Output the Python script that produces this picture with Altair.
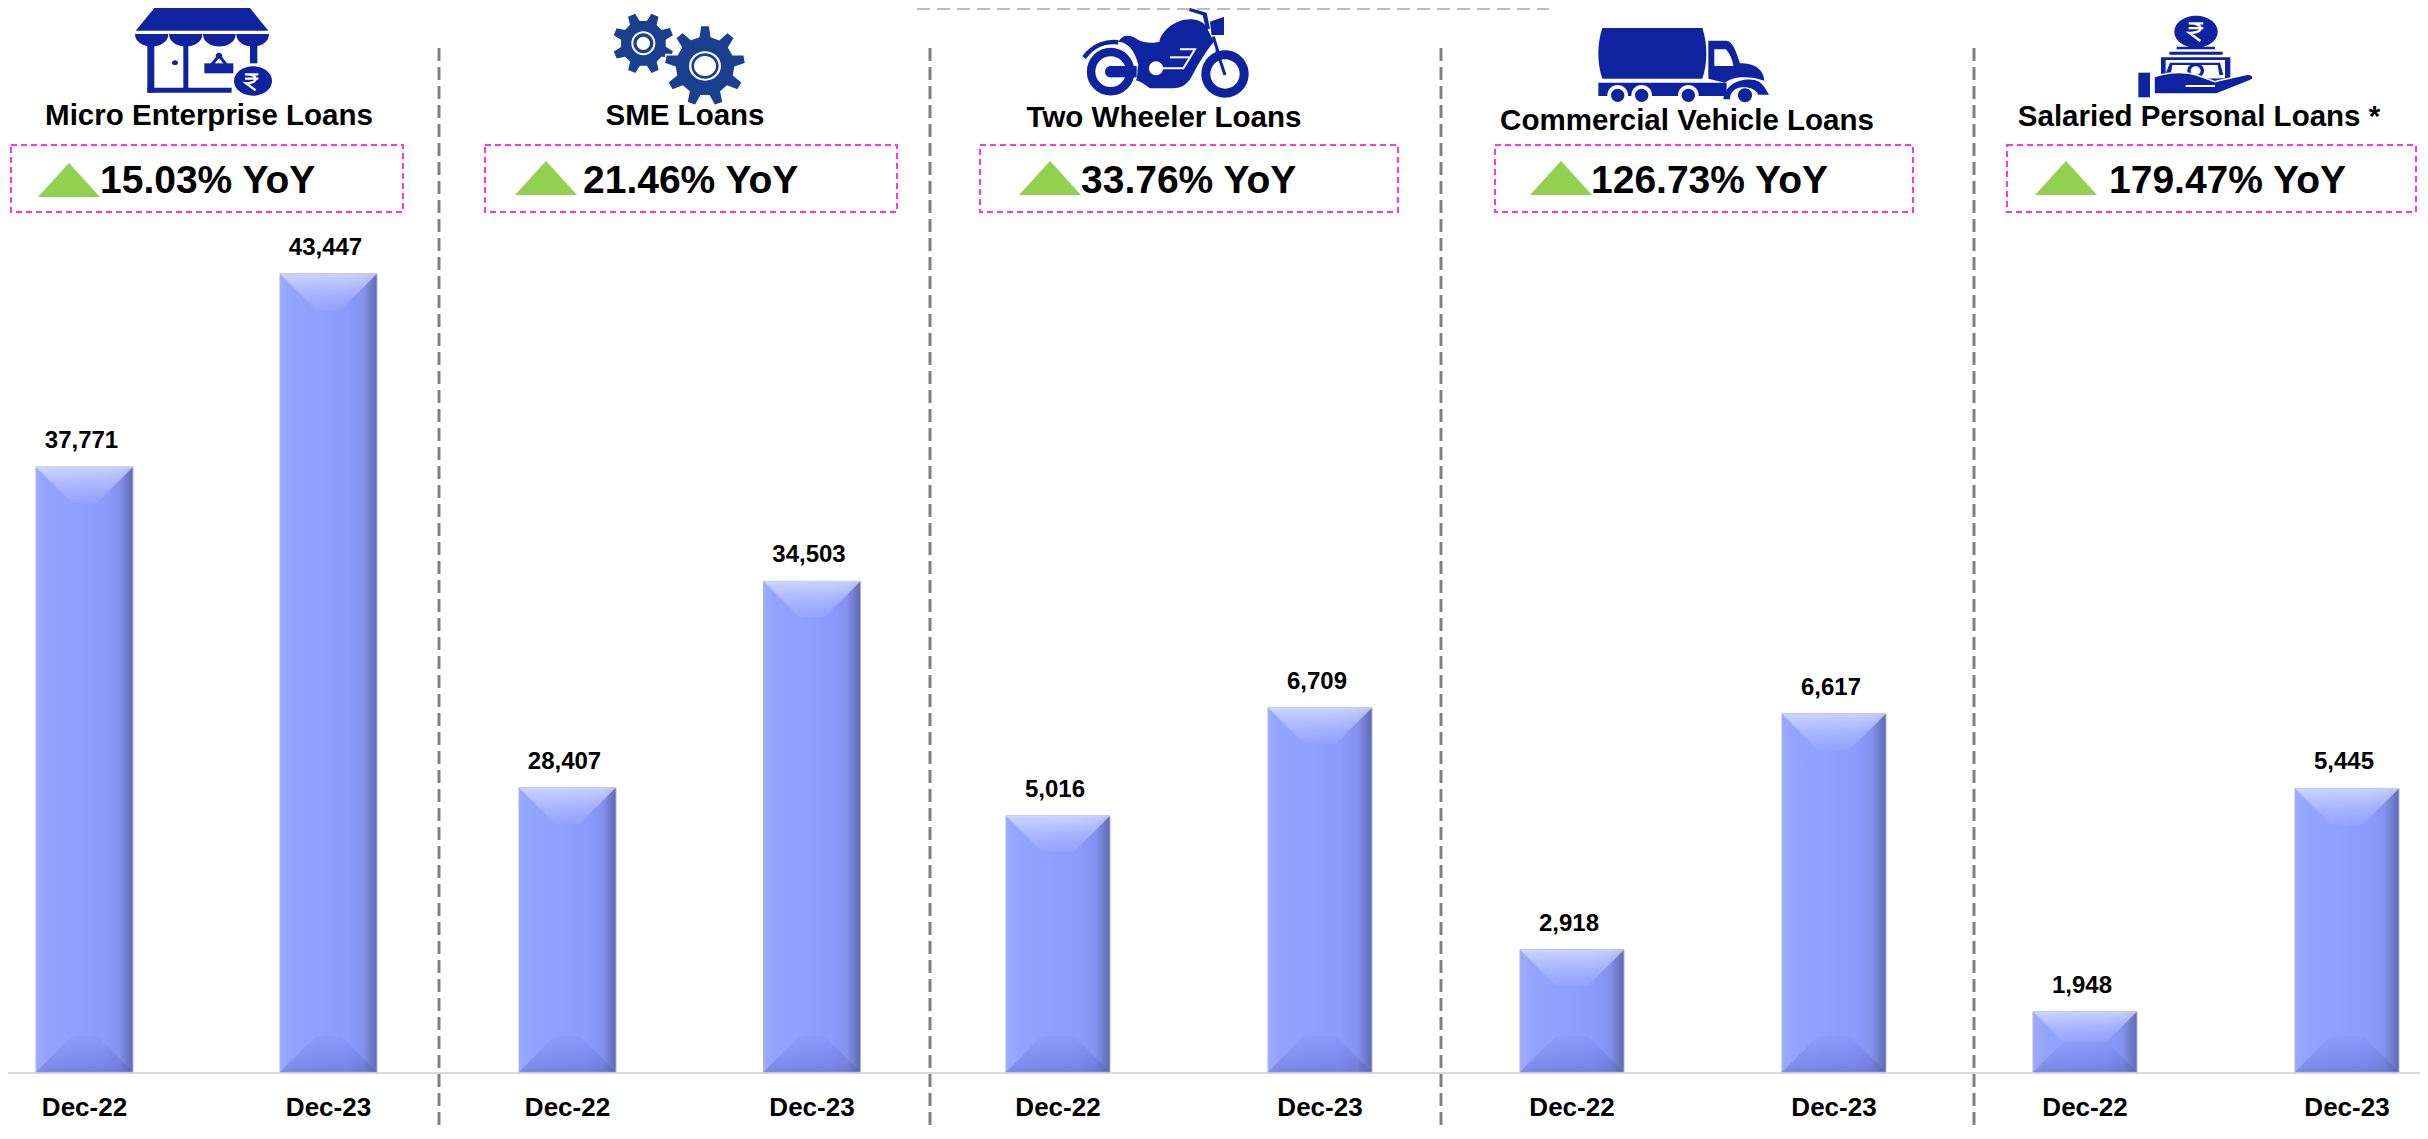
import math
import re
import altair as alt

# ---------- chart values ----------
titles = ["Micro Enterprise Loans", "SME Loans", "Two Wheeler Loans",
          "Commercial Vehicle Loans", "Salaried Personal Loans *"]
yoy = ["15.03% YoY", "21.46% YoY", "33.76% YoY", "126.73% YoY", "179.47% YoY"]
periods = ["Dec-22", "Dec-23"]
dec22 = [37771, 28407, 5016, 2918, 1948]
dec23 = [43447, 34503, 6709, 6617, 5445]
axis_min = [20000, 20000, 1000, 1000, 1000]
axis_max = [51250, 51450, 17680, 17680, 17680]

# ---------- layout (page pixels) ----------
H = 1064
panel_edges = [8, 439, 930, 1441, 1974, 2420]
bar_width = [97, 97, 104, 104, 104]
bar_centers = [(84.5, 328.5), (567.5, 812), (1058, 1320), (1572, 1834), (2085, 2347)]
title_x = [209, 685, 1164, 1687, 2199]
title_y = [125, 125, 127, 130, 126]
box_x = [(11, 403), (485, 897), (980, 1398), (1495, 1913), (2007, 2416)]
tri_x = [69, 546, 1050, 1561, 2066]
tri_y = [180, 178, 178, 178, 178]
yoy_x = [100, 583, 1081, 1591, 2109]
icon_origin = [(125, 8), (600, 8), (1070, 8), (1585, 20), (2125, 10)]

FONT = "Liberation Sans"
NAVY = "#0f239f"
GEAR = "#1a3f8e"


# ---------- icon drawing helpers (shapes in 3x icon units) ----------
def ellipse(cx, cy, rx, ry):
    k = 0.5523
    return (f"M{cx - rx},{cy} C{cx - rx},{cy - k * ry} {cx - k * rx},{cy - ry} {cx},{cy - ry} "
            f"C{cx + k * rx},{cy - ry} {cx + rx},{cy - k * ry} {cx + rx},{cy} "
            f"C{cx + rx},{cy + k * ry} {cx + k * rx},{cy + ry} {cx},{cy + ry} "
            f"C{cx - k * rx},{cy + ry} {cx - rx},{cy + k * ry} {cx - rx},{cy} Z")


def rect(x0, y0, x1, y1):
    return f"M{x0},{y0} L{x1},{y0} L{x1},{y1} L{x0},{y1} Z"


def scallop(x0, x1, y0, y1):
    return f"M{x0},{y0} L{x1},{y0} C{x1},{y1} {x0},{y1} {x0},{y0} Z"


def gear(cx, cy, ro, ri, n, rot):
    pts = []
    step = 2 * math.pi / n
    for i in range(n):
        t = rot + i * step
        for f, r in ((-0.30, ri), (-0.16, ro), (0.16, ro), (0.30, ri)):
            pts.append((cx + r * math.cos(t + f * step), cy + r * math.sin(t + f * step)))
    return "M" + " L".join(f"{x:.1f},{y:.1f}" for x, y in pts) + " Z"


def rupee(cx, cy, s):
    x0, x1 = cx - 20 * s, cx + 20 * s
    y0, y1 = cy - 20 * s, cy - 7 * s
    return (f"M{x0},{y0} L{x1},{y0} M{x0},{y1} L{x1},{y1} "
            f"M{x0 + 4 * s},{y0} C{cx + 22 * s},{y0} {cx + 22 * s},{cy + 8 * s} {x0 + 2 * s},{cy + 6 * s} "
            f"L{cx + 12 * s},{cy + 28 * s}")


def fill(path, color=NAVY):
    return {"path": path, "fill": color, "stroke": "transparent", "sw": 0}


def line(path, color=NAVY, sw=2.0):
    return {"path": path, "fill": "transparent", "stroke": color, "sw": sw}


def shifted(pieces, dy):
    """Move an icon's shapes up so its anchor stays inside the plot area."""
    def mv(m):
        return f"{float(m.group(1)):.1f},{float(m.group(2)) + dy:.1f}"
    return [{**p, "path": re.sub(r"(-?[\d.]+),(-?[\d.]+)", mv, p["path"])} for p in pieces]


def dashes_v(length, thick, dash, gap):
    """Vertical dashes as a filled outline, so that nothing pads the layout."""
    out, pos = [], 0
    while pos < length:
        out.append(rect(-thick / 2, pos, thick / 2, min(pos + dash, length)))
        pos += dash + gap
    return " ".join(out)


def dashes_h(length, thick, dash, gap):
    out, pos = [], 0
    while pos < length:
        out.append(rect(pos, 0, min(pos + dash, length), thick))
        pos += dash + gap
    return " ".join(out)


store_icon = shifted([
    fill("M88,24 L375,24 L430,92 L32,92 Z"),
    fill(scallop(30, 130, 102, 152)), fill(scallop(132, 232, 102, 152)),
    fill(scallop(234, 332, 102, 152)), fill(scallop(334, 432, 102, 152)),
    fill(rect(67, 132, 88, 278)), fill(rect(175, 132, 190, 268)),
    fill(rect(67, 263, 320, 278)), fill(rect(375, 132, 397, 190)),
    fill(ellipse(150, 188, 9, 7)),
    fill(rect(238, 190, 325, 220)),
    fill("M256,192 L282,160 L308,192 L296,192 L282,174 L268,192 Z"),
    fill(ellipse(282, 167, 10, 9)),
    fill(ellipse(384, 243, 57, 44)),
    line(rupee(380, 243, 1.0), "white", 2.2),
], -24)
gear_icon = shifted([
    fill(gear(130, 115, 92, 68, 8, 0.39), GEAR),
    fill(ellipse(130, 115, 36, 36), "white"), fill(ellipse(130, 115, 30, 30), GEAR),
    fill(ellipse(130, 115, 20, 20), "white"),
    {"path": gear(315, 183, 122, 90, 9, -1.57), "fill": GEAR, "stroke": "white", "sw": 1.5},
    fill(ellipse(315, 183, 48, 44), "white"), fill(ellipse(315, 183, 41, 38), GEAR),
    fill(ellipse(315, 183, 33, 30), "white"),
], -9)
bike_icon = shifted([
    fill("M145,125 C160,100 185,105 205,120 C225,130 250,130 268,125 C275,90 320,55 365,58 "
         "C395,60 410,75 415,92 L432,125 C410,150 385,190 365,230 C350,255 335,265 300,265 "
         "L240,265 C225,255 215,245 195,240 L205,195 C195,150 170,125 145,125 Z"),
    line("M42,173 C70,135 110,122 145,127", NAVY, 4.5),
    fill("M360,24 L357,33 L398,46 L408,88 L420,86 L410,38 Z"),
    fill("M420,65 L462,50 L462,105 L425,105 Z"),
    line("M430,110 L465,225", NAVY, 3),
    {"path": ellipse(122, 215, 76, 76), "fill": NAVY, "stroke": "white", "sw": 3},
    fill(ellipse(122, 215, 46, 46), "white"),
    fill(ellipse(122, 215, 17, 17)),
    fill(rect(122, 198, 200, 232)),
    fill(ellipse(258, 205, 21, 21), "white"),
    line("M258,205 L340,205 L375,148 L330,148", "white", 2),
    line("M300,172 L358,172", "white", 2),
    fill(ellipse(465, 222, 71, 71)),
    fill(ellipse(465, 222, 44, 44), "white"),
    line("M440,150 L465,225", NAVY, 3),
], -24)
truck_icon = [
    fill("M52,24 L352,24 C368,70 368,130 352,176 L52,176 C36,130 36,70 52,24 Z"),
    fill("M370,62 L425,62 C445,65 455,100 465,130 C505,130 535,145 538,182 "
         "C490,165 440,170 420,188 L370,176 Z"),
    fill("M388,88 L422,88 C435,100 442,120 445,138 L388,138 Z", "white"),
    fill(rect(40, 188, 425, 228)),
    fill("M415,238 C420,190 470,172 510,180 C535,188 540,205 552,224 L520,224 "
         "C510,205 490,200 470,202 C445,205 435,220 435,238 Z"),
    fill(ellipse(98, 226, 31, 31), "white"), fill(ellipse(98, 226, 20, 20)),
    fill(ellipse(170, 226, 31, 31), "white"), fill(ellipse(170, 226, 20, 20)),
    fill(ellipse(310, 226, 31, 31), "white"), fill(ellipse(310, 226, 20, 20)),
    fill(ellipse(480, 226, 21, 21)),
]
hand_icon = [
    fill(ellipse(213, 65, 65, 48)),
    line(rupee(213, 62, 1.1), "white", 2.4),
    fill(rect(155, 110, 270, 118)),
    fill(rect(133, 125, 293, 134)),
    fill(rect(108, 142, 316, 215)),
    fill(rect(122, 150, 300, 205), "white"),
    fill("M135,158 L285,158 L295,195 L120,195 Z"),
    fill("M142,165 L278,165 L285,205 L135,205 Z", "white"),
    fill(ellipse(212, 182, 25, 22)),
    fill(ellipse(212, 182, 15, 13), "white"),
    {"path": "M87,200 C120,190 170,180 215,195 L270,215 L280,212 L370,192 C388,195 388,208 375,212 "
             "L275,252 L87,252 Z", "fill": NAVY, "stroke": "white", "sw": 1.5},
    line("M182,228 L270,228", "white", 2),
    fill(rect(40, 188, 75, 262)),
]
icons = [store_icon, gear_icon, bike_icon, truck_icon, hand_icon]

BODY_GRADIENT = {
    "gradient": "linear", "x1": 0, "x2": 1, "y1": 0, "y2": 0,
    "stops": [{"offset": 0, "color": "#9babff"}, {"offset": 0.12, "color": "#93a4ff"},
              {"offset": 0.7, "color": "#8c9bfc"}, {"offset": 0.86, "color": "#8492ee"},
              {"offset": 1, "color": "#5f6ab0"}],
}
TOP_GRADIENT = {
    "gradient": "linear", "x1": 0, "x2": 0, "y1": 0, "y2": 1,
    "stops": [{"offset": 0, "color": "rgba(225,232,255,0.72)"},
              {"offset": 1, "color": "rgba(190,203,255,0.12)"}],
}
BOTTOM_GRADIENT = {
    "gradient": "linear", "x1": 0, "x2": 0, "y1": 0, "y2": 1,
    "stops": [{"offset": 0, "color": "rgba(80,95,200,0.06)"},
              {"offset": 1, "color": "rgba(70,85,185,0.36)"}],
}

one = alt.Data(values=[{}])


def panel(i):
    off = panel_edges[i]
    width = panel_edges[i + 1] - off
    px = lambda v: v - off
    py = lambda v: v - 8
    w = bar_width[i]
    c0, c1 = bar_centers[i]
    step = c1 - c0
    lo, hi = axis_min[i], axis_max[i]

    rows = []
    for name, val in zip(periods, (dec22[i], dec23[i])):
        d = min(36, (val - lo) * H / (hi - lo) / 2)
        rows.append({
            "period": name, "value": val, "base": lo,
            "label": f"{val:,}",
            "top": f"M{-w / 2},0 L{w / 2},0 L{w / 2 - d},{d} L{-w / 2 + d},{d} Z",
            "bottom": f"M{-w / 2},0 L{w / 2},0 L{w / 2 - d},{-d} L{-w / 2 + d},{-d} Z",
        })
    data = alt.Data(values=rows)

    x = alt.X("period:N", sort=periods, title=None,
              scale=alt.Scale(range=[px(c0 - w / 2), px(c1 + w / 2)],
                              paddingInner=1 - w / step, paddingOuter=0),
              axis=alt.Axis(domain=False, ticks=False, grid=False, labelAngle=0,
                            labelFont=FONT, labelFontWeight="bold", labelFontSize=26,
                            labelColor="black", labelPadding=22, labelBaseline="top"))
    y = alt.Y("value:Q", title=None, axis=None,
              scale=alt.Scale(domain=[lo, hi], zero=False, nice=False))

    bars = alt.Chart(data).mark_bar(fill=BODY_GRADIENT, stroke="#aeb5d8", strokeWidth=1).encode(
        x=x, y=y, y2="base:Q")
    top = alt.Chart(data).mark_point(filled=True, fill=TOP_GRADIENT, size=4, opacity=1, strokeWidth=0).encode(
        x=x, y=y, shape=alt.Shape("top:N", scale=None, legend=None))
    bottom = alt.Chart(data).mark_point(filled=True, fill=BOTTOM_GRADIENT, size=4, opacity=1, strokeWidth=0).encode(
        x=x, y=alt.Y("base:Q", title=None, axis=None, scale=alt.Scale(domain=[lo, hi], zero=False, nice=False)),
        shape=alt.Shape("bottom:N", scale=None, legend=None))
    labels = alt.Chart(data).mark_text(font=FONT, fontWeight="bold", fontSize=24, color="black",
                                       align="center", baseline="alphabetic", dy=-19, dx=-3).encode(
        x=x, y=y, text="label:N")

    baseline = alt.Chart(one).mark_rect(color="#d9d9d9", opacity=1).encode(
        x=alt.value(0), x2=alt.value(width), y=alt.value(H), y2=alt.value(H + 2))

    title = alt.Chart(one).mark_text(font=FONT, fontWeight="bold", fontSize=29.5, color="black",
                                     align="center", baseline="alphabetic").encode(
        x=alt.value(px(title_x[i])), y=alt.value(py(title_y[i])), text=alt.value(titles[i]))
    box = alt.Chart(one).mark_rect(fill="transparent", stroke="#ff33ee", strokeWidth=2,
                                   strokeDash=[6, 4]).encode(
        x=alt.value(px(box_x[i][0])), x2=alt.value(px(box_x[i][1])),
        y=alt.value(py(145)), y2=alt.value(py(212)))
    tri = alt.Chart(one).mark_point(filled=True, shape="M-31,17 L31,17 L0,-17 Z", size=4, opacity=1,
                                    color="#92d050", strokeWidth=0).encode(
        x=alt.value(px(tri_x[i])), y=alt.value(py(tri_y[i])))
    pct = alt.Chart(one).mark_text(font=FONT, fontWeight="bold", fontSize=39, color="black",
                                   align="left", baseline="alphabetic").encode(
        x=alt.value(px(yoy_x[i])), y=alt.value(py(193)), text=alt.value(yoy[i]))

    ox, oy = icon_origin[i]
    icon = alt.Chart(alt.Data(values=icons[i])).mark_point(filled=True, size=4 / 9, opacity=1).encode(
        x=alt.value(px(ox)), y=alt.value(py(oy)),
        shape=alt.Shape("path:N", scale=None, legend=None),
        fill=alt.Fill("fill:N", scale=None, legend=None),
        stroke=alt.Stroke("stroke:N", scale=None, legend=None),
        strokeWidth=alt.StrokeWidth("sw:Q", scale=None, legend=None))

    layers = [baseline, bars, top, bottom, labels, title, box, tri, pct, icon]

    if i < 4:
        divider = alt.Chart(one).mark_point(filled=True, size=4, opacity=1, color="#808080", strokeWidth=0,
                                            shape=dashes_v(1122 - py(48), 3, 13, 6)).encode(
            x=alt.value(width), y=alt.value(py(48)))
        layers.append(divider)
    if i == 1:
        topline = alt.Chart(one).mark_point(filled=True, size=4, opacity=1, color="#bdbdbd", strokeWidth=0,
                                            shape=dashes_h(1549 - 917, 2, 13, 7)).encode(
            x=alt.value(px(917)), y=alt.value(0))
        layers.append(topline)

    return alt.layer(*layers).properties(width=width, height=H)


chart = alt.hconcat(*[panel(i) for i in range(5)]).properties(
    spacing=0, bounds="flush", padding=0
).configure_view(stroke=None).configure_concat(spacing=0)

chart.save("out.html", embed_options={"renderer": "svg", "actions": False})
